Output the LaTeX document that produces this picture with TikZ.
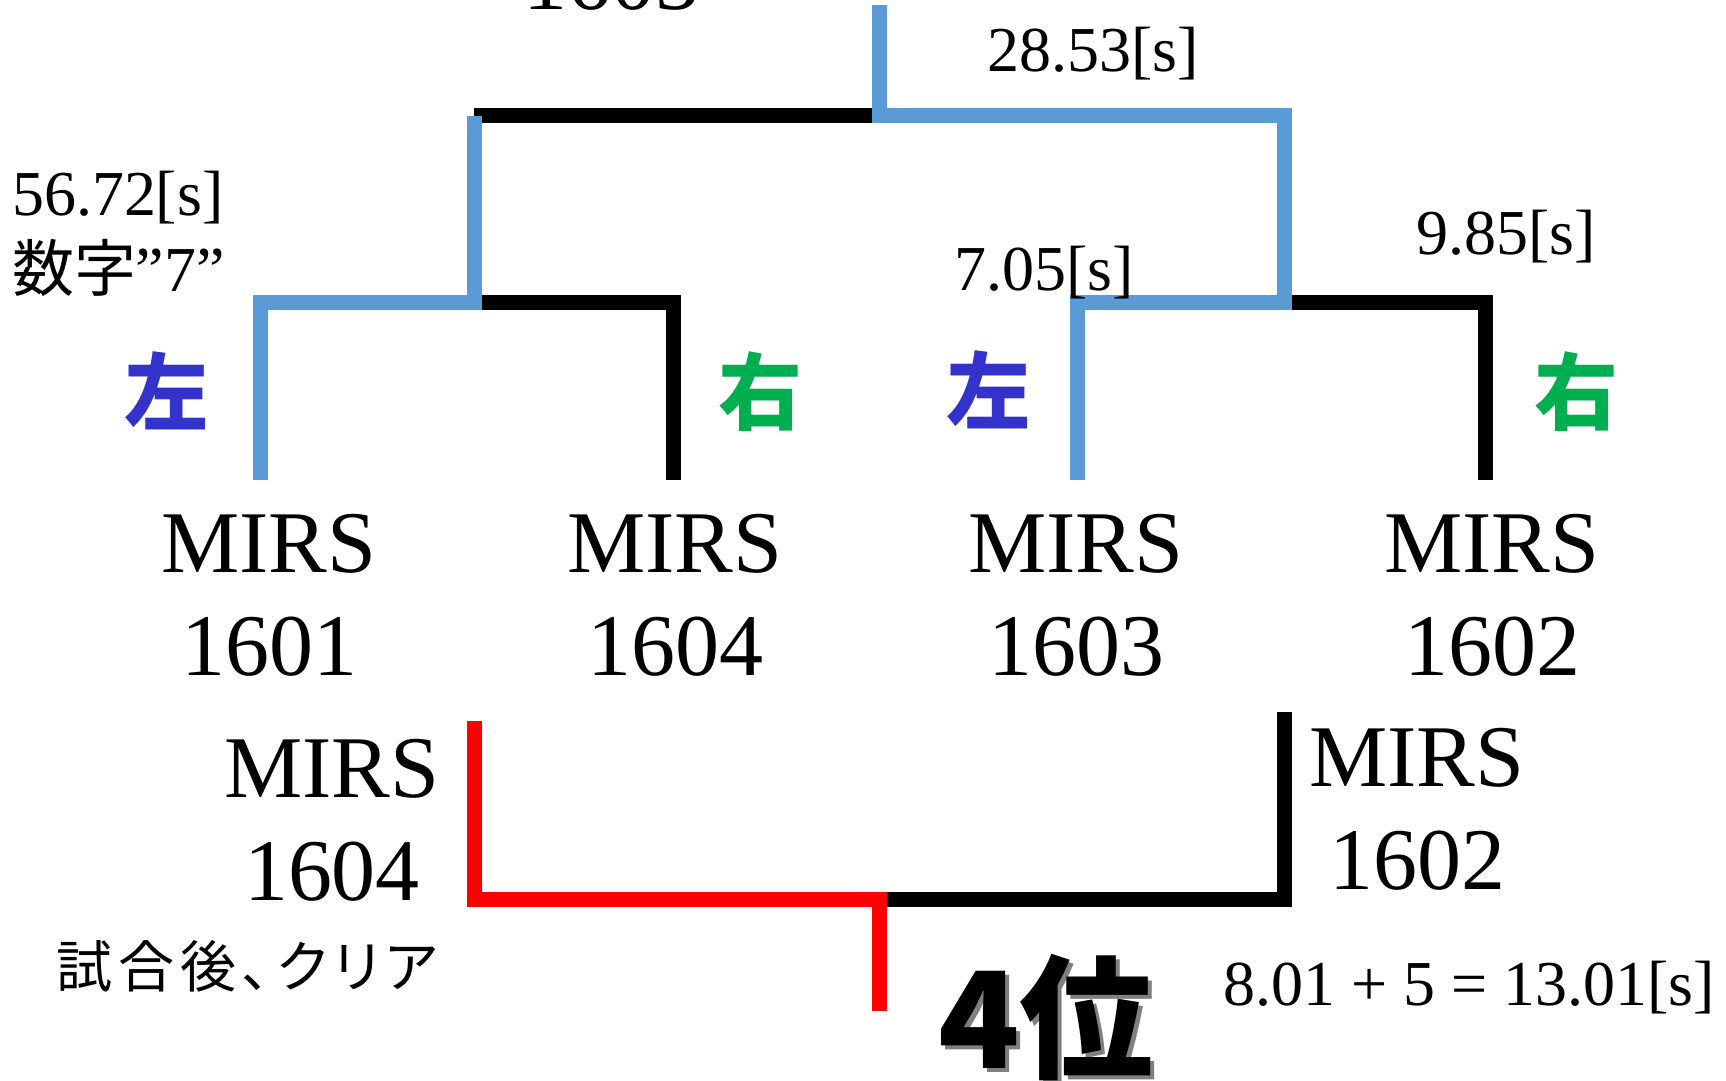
\documentclass[tikz,border=0pt]{standalone}
\usepackage{fontspec}
\setmainfont{Liberation Serif}
\newfontfamily\jp{Noto Sans CJK JP}
\newfontfamily\jpprop[RawFeature=+palt, LetterSpace=11]{Noto Sans CJK JP}
\usetikzlibrary{positioning}
\definecolor{winblue}{HTML}{5B9BD5}
\definecolor{leftblue}{HTML}{3333CC}
\definecolor{rightgreen}{HTML}{00B050}

\begin{document}
\begin{tikzpicture}[
  x=0.5pt, y=-0.5pt,
  every node/.style={inner sep=0pt, outer sep=0pt},
  teamlabel/.style={font=\fontsize{44}{51.5}\selectfont, align=center, anchor=north},
  timelabel/.style={font=\fontsize{32}{38}\selectfont, anchor=base west, align=left},
  sidemark/.style={font=\jp\bfseries\fontsize{42}{42}\selectfont},
  bar/.style={line width=7.5pt},
  winline/.style={bar, draw=winblue},
  loseline/.style={bar, draw=black},
  redline/.style={bar, draw=red}
]
\useasboundingbox (0,0) rectangle (1726,1081);

% bracket joints
\coordinate (champ) at (879,5);
\coordinate (f) at (879,116);
\coordinate (sL) at (474,302);
\coordinate (sR) at (1284,302);
\coordinate (l1) at (260,480);
\coordinate (l2) at (673,480);
\coordinate (l3) at (1077,480);
\coordinate (l4) at (1485,480);
% third place match
\coordinate (b1) at (474,721);
\coordinate (b2) at (1284,712);
\coordinate (bf) at (879,899);
\coordinate (bend) at (879,1011);

% losers
\draw[loseline] (sL |- f) -- (f);
\draw[loseline] (sL) -| (l2);
\draw[loseline] (sR) -| (l4);
\draw[loseline] (b2) |- (bf);
% winners
\draw[winline] (l1) |- (sL) -- (sL |- f);
\draw[winline] (champ) -- (f) -| (sR) -| (l3);
\draw[redline] (b1) |- (bf) -- (bend);

% teams
\node[font=\fontsize{44}{51.5}\selectfont, anchor=base] (top) at (611,10) {1603};
\node[teamlabel] (t1) at (269,514) {MIRS\\1601};
\node[teamlabel] (t2) at (675,514) {MIRS\\1604};
\node[teamlabel] (t3) at (1076,514) {MIRS\\1603};
\node[teamlabel] (t4) at (1492,514) {MIRS\\1602};
\node[teamlabel] (b1name) at (332,739) {MIRS\\1604};
\node[teamlabel] (b2name) at (1417,728) {MIRS\\1602};

% times
\node[timelabel] (s1) at (12,292) {56.72[s]\\{\fontsize{31}{38}\jp 数字}”7”};
\node[timelabel] (final) at (987,72) {28.53[s]};
\node[timelabel] (s2l) at (954,291) {7.05[s]};
\node[timelabel] (s2r) at (1416,255) {9.85[s]};
\node[timelabel] (third) at (1223,1005) {8.01 + 5 = 13.01[s]};
\node[font=\jpprop\fontsize{28}{30}\selectfont, anchor=base west] (clear) at (56,987) {試合後、クリア};

% left / right
\node[sidemark, text=leftblue] (left1) at (166,391) {左};
\node[sidemark, text=rightgreen] (right1) at (760,392) {右};
\node[sidemark, text=leftblue] (left2) at (988,390) {左};
\node[sidemark, text=rightgreen] (right2) at (1576,392) {右};

% rank
\node[font=\jp\bfseries\fontsize{67}{67}\selectfont, anchor=base west, text=gray] (rankshadow) at (942,1072) {4位};
\node[font=\jp\bfseries\fontsize{67}{67}\selectfont, anchor=base west] (rank) at (938,1068) {4位};
\end{tikzpicture}
\end{document}
